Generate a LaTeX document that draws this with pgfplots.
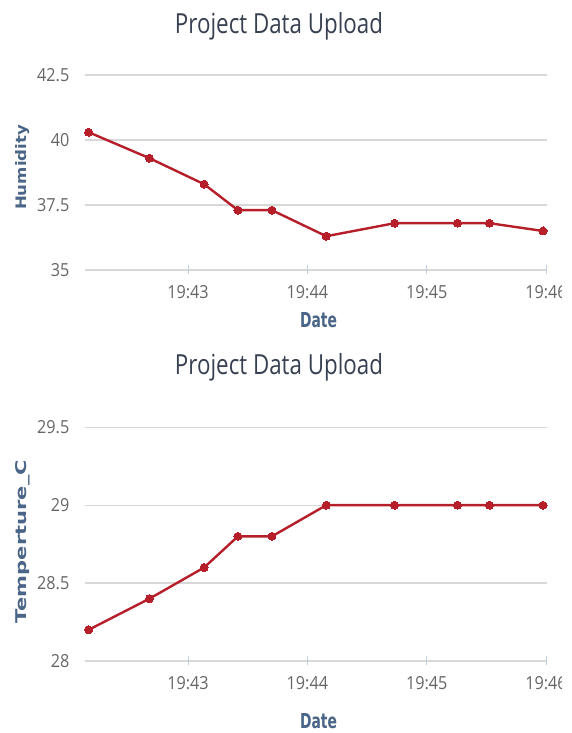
\documentclass[border=0pt]{standalone}
\usepackage{fontspec}
\usepackage{graphicx}
\usepackage{pgfplots}
\pgfplotsset{compat=1.18}
\setmainfont{Open Sans}
\newfontfamily\tickfont[FakeStretch=0.9]{Open Sans}
\newfontfamily\titlefont{Open Sans}
\newfontfamily\labfont{DejaVu Sans Bold}
\definecolor{titlec}{RGB}{55,64,80}
\definecolor{labc}{RGB}{74,101,135}
\definecolor{tickc}{RGB}{102,102,102}
\definecolor{gridc}{RGB}{216,216,216}
\definecolor{axc}{RGB}{192,208,224}
\definecolor{linec}{RGB}{182,30,42}
\pgfplotsset{
  hc/.style={
    scale only axis, width=462pt,
    xmin=8.2, xmax=240.5,
    clip=false,
    axis line style={draw=none},
    xtick={60,120,180,240},
    xticklabels={19:43,19:44,19:45,19:46},
    xtick pos=left, ytick pos=left,
    ytick style={draw=none},
    xtick style={color=axc, line width=0.8pt},
    major tick length=9pt, tick align=center,
    ymajorgrids, grid style={color=gridc, line width=1.3pt},
    ticklabel style={font=\tickfont\fontsize{18}{20}\selectfont, text=tickc, inner sep=0pt},
    xticklabel style={anchor=base, yshift=-24pt},
    yticklabel style={anchor=east, xshift=-11pt},
  },
  hcline/.style={color=linec, line width=2.4pt, mark=*, mark size=4pt, mark options={fill=linec, draw=linec, line width=0pt}},
}
\begin{document}
\begin{tikzpicture}[x=1pt,y=1pt]
\begin{scope}
\clip (0,0) rectangle (561,733);
\begin{axis}[hc, at={(85pt,463pt)}, anchor=south west, height=195pt,
  ymin=35, ymax=42.5, ytick={35,37.5,40,42.5}, yticklabels={35,37.5,40,42.5}]
\addplot[hcline] coordinates {(10,40.3) (40.6,39.3) (68.1,38.3) (85.1,37.3) (102.2,37.3) (129.5,36.3) (163.9,36.8) (195.5,36.8) (211.6,36.8) (238.5,36.5)};
\end{axis}
\begin{axis}[hc, at={(85pt,72pt)}, anchor=south west, height=233.7pt,
  ymin=28, ymax=29.5, ytick={28,28.5,29,29.5}, yticklabels={28,28.5,29,29.5}]
\addplot[hcline] coordinates {(10,28.2) (40.6,28.4) (68.1,28.6) (85.1,28.8) (102.2,28.8) (129.5,29.0) (163.9,29.0) (195.5,29.0) (211.6,29.0) (238.5,29.0)};
\end{axis}
\end{scope}
% titles
\node[anchor=base, text=titlec, inner sep=0pt] at (279,699) {\resizebox{208pt}{21pt}{\titlefont Project Data Upload}};
\node[anchor=base, text=titlec, inner sep=0pt] at (279,358) {\resizebox{208pt}{21pt}{\titlefont Project Data Upload}};
% axis labels
\node[anchor=base, text=labc, inner sep=0pt] at (318.5,405) {\resizebox{37pt}{15pt}{\labfont Date}};
\node[anchor=base, text=labc, inner sep=0pt] at (318.5,5) {\resizebox{37pt}{15pt}{\labfont Date}};
\node[anchor=base, rotate=90, text=labc, inner sep=0pt] at (26,565.5) {\resizebox{85pt}{11pt}{\labfont Humidity}};
\node[anchor=base, rotate=90, text=labc, inner sep=0pt] at (26,191.5) {\resizebox{163pt}{11pt}{\labfont Temperture\_C}};
\pgfresetboundingbox
\path[use as bounding box] (0,0) rectangle (571,733);
\end{tikzpicture}
\end{document}
